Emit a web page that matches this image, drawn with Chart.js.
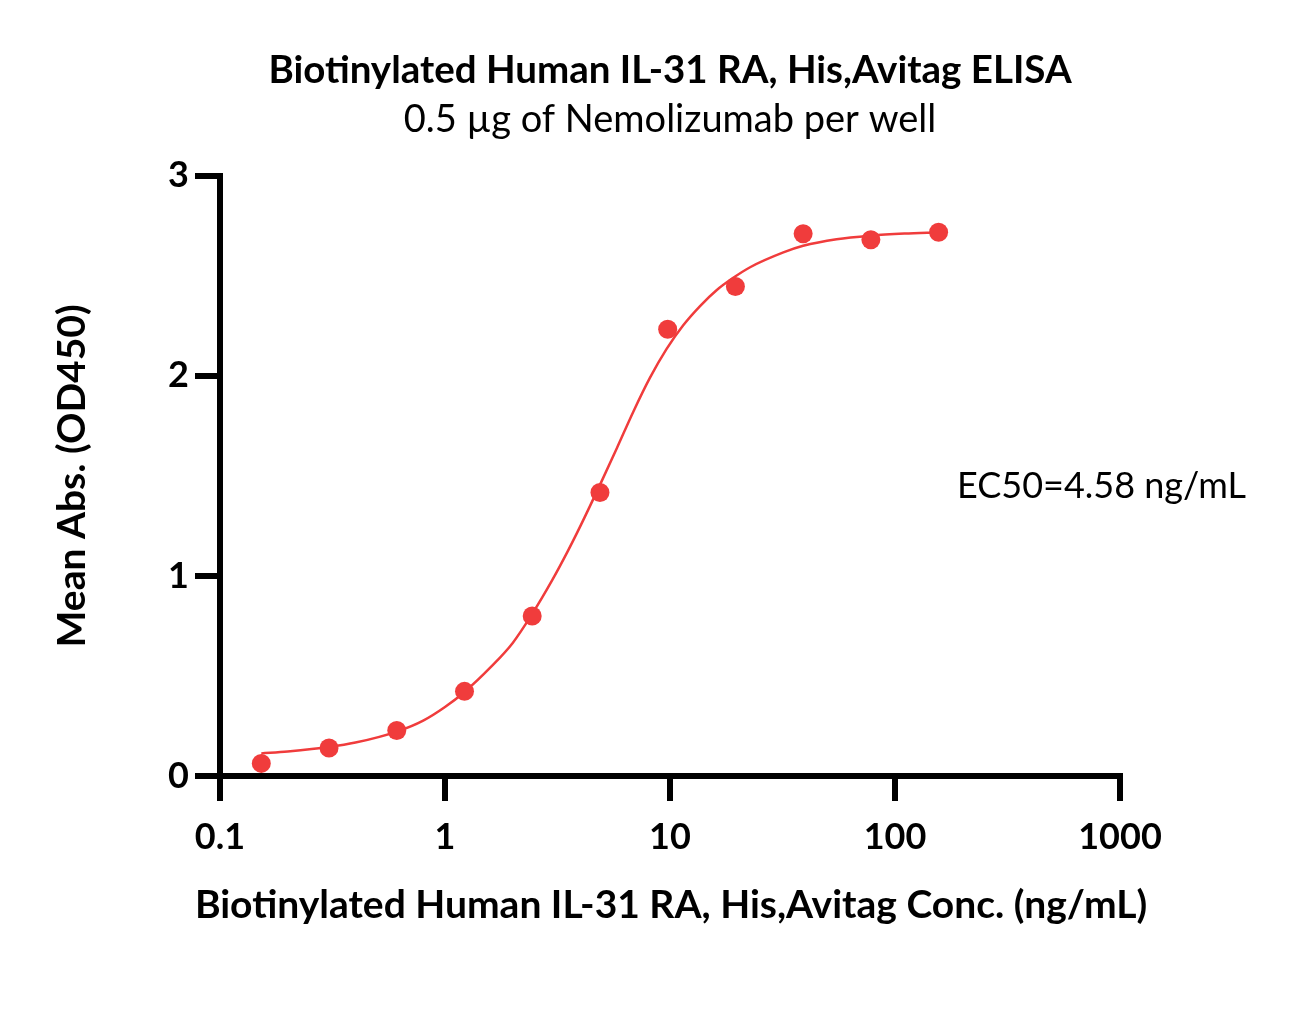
<!DOCTYPE html>
<html>
<head>
<meta charset="utf-8">
<script src="https://cdn.jsdelivr.net/npm/chart.js@4"></script>
<style>
  html, body { margin: 0; padding: 0; background: #ffffff; }
  #wrap { width: 1295px; height: 1023px; }
</style>
</head>
<body>
<div id="wrap"><canvas id="c" width="1295" height="1023"></canvas></div>
<script>
// ---- data ----
const concentrations = [0.1526, 0.3052, 0.6104, 1.221, 2.441, 4.883, 9.766, 19.53, 39.06, 78.13, 156.25];
const meanAbs = [0.063, 0.14, 0.227, 0.423, 0.80, 1.417, 2.233, 2.447, 2.71, 2.68, 2.718];

const fitX = [0.1526, 0.2, 0.3052, 0.4, 0.6104, 0.8, 1.0, 1.221, 1.6, 2.0, 2.441, 3.0, 3.5, 4.0, 4.883, 5.79, 6.87, 8.15, 9.66, 11.45, 13.6, 16.1, 19.1, 22.7, 31.9, 39.06, 55, 78.13, 110, 156.25];
const fitY = [0.113, 0.123, 0.145, 0.167, 0.222, 0.277, 0.345, 0.42, 0.545, 0.665, 0.81, 0.98, 1.12, 1.25, 1.455, 1.636, 1.821, 1.991, 2.135, 2.253, 2.349, 2.428, 2.49, 2.543, 2.617, 2.65, 2.683, 2.701, 2.711, 2.717];

const xTicks = [0.1, 1, 10, 100, 1000];
const xTickLabels = ['0.1', '1', '10', '100', '1000'];
const yTicks = [0, 1, 2, 3];

const titleText = 'Biotinylated Human IL-31 RA, His,Avitag ELISA';
const subtitleText = '0.5 \u00b5g of Nemolizumab per well';
const xTitle = 'Biotinylated Human IL-31 RA, His,Avitag Conc. (ng/mL)';
const yTitle = 'Mean Abs. (OD450)';
const ec50Text = 'EC50=4.58 ng/mL';

// ---- styles ----
const RED = '#F03C3C';
const FONT = 'Lato';

// EC50 note and the x-axis title (drawn here so it may run wider than the axis, as in the reference)
const textPlugin = {
  id: 'extraText',
  afterDraw(chart) {
    const ctx = chart.ctx;
    const area = chart.chartArea;
    ctx.save();
    ctx.fillStyle = '#000';
    ctx.textBaseline = 'middle';
    ctx.font = '36px ' + FONT;
    ctx.textAlign = 'left';
    ctx.fillText(ec50Text, 957, 486);
    ctx.font = 'bold 39px ' + FONT;
    ctx.textAlign = 'center';
    ctx.fillText(xTitle, (area.left + area.right) / 2 + 1, 905);
    ctx.restore();
  }
};

new Chart(document.getElementById('c'), {
  type: 'scatter',
  data: {
    datasets: [
      {
        label: 'fit',
        type: 'line',
        data: fitX.map((x, i) => ({ x: x, y: fitY[i] })),
        borderColor: RED,
        borderWidth: 2.5,
        pointRadius: 0,
        fill: false,
        cubicInterpolationMode: 'monotone',
        order: 2
      },
      {
        label: 'data',
        data: concentrations.map((x, i) => ({ x: x, y: meanAbs[i] })),
        backgroundColor: RED,
        borderColor: RED,
        borderWidth: 0,
        pointRadius: 9.5,
        showLine: false,
        order: 1
      }
    ]
  },
  options: {
    responsive: false,
    animation: false,
    devicePixelRatio: 1,
    layout: { padding: { top: 0, left: 0, right: 175, bottom: 0 } },
    plugins: {
      legend: { display: false },
      tooltip: { enabled: false },
      title: {
        display: true,
        fullSize: false,
        text: titleText,
        color: '#000',
        font: { family: FONT, size: 38.5, weight: 'bold', lineHeight: 1.2 },
        padding: { top: 47, bottom: 0 }
      },
      subtitle: {
        display: true,
        fullSize: false,
        text: subtitleText,
        color: '#000',
        font: { family: FONT, size: 38, weight: 'normal', lineHeight: 1.2 },
        padding: { top: 4, bottom: 33 }
      }
    },
    scales: {
      x: {
        type: 'logarithmic',
        min: 0.1,
        max: 1000,
        afterBuildTicks(axis) { axis.ticks = xTicks.map(v => ({ value: v })); },
        afterFit(axis) { axis.height = 247; },
        ticks: {
          autoSkip: false,
          maxRotation: 0,
          color: '#000',
          padding: 15,
          font: { family: FONT, size: 36, weight: 'bold' },
          callback(v) { const i = xTicks.indexOf(v); return i >= 0 ? xTickLabels[i] : ''; }
        },
        grid: { display: true, drawOnChartArea: false, drawTicks: true, tickLength: 25, lineWidth: 6, color: '#000' },
        border: { display: true, width: 6, color: '#000' },
        title: { display: false, text: xTitle }
      },
      y: {
        type: 'linear',
        min: 0,
        max: 3,
        afterBuildTicks(axis) { axis.ticks = yTicks.map(v => ({ value: v })); },
        afterFit(axis) { axis.width = 220; },
        ticks: {
          color: '#000',
          padding: 6,
          font: { family: FONT, size: 36, weight: 'bold' },
          callback(v) { return String(v); }
        },
        grid: { display: true, drawOnChartArea: false, drawTicks: true, tickLength: 25, lineWidth: 6, color: '#000' },
        border: { display: true, width: 6, color: '#000' },
        title: {
          display: true,
          text: yTitle,
          color: '#000',
          font: { family: FONT, size: 39, weight: 'bold', lineHeight: 1.2 },
          padding: { top: 49, bottom: 0 }
        }
      }
    }
  },
  plugins: [textPlugin]
});
</script>
</body>
</html>
